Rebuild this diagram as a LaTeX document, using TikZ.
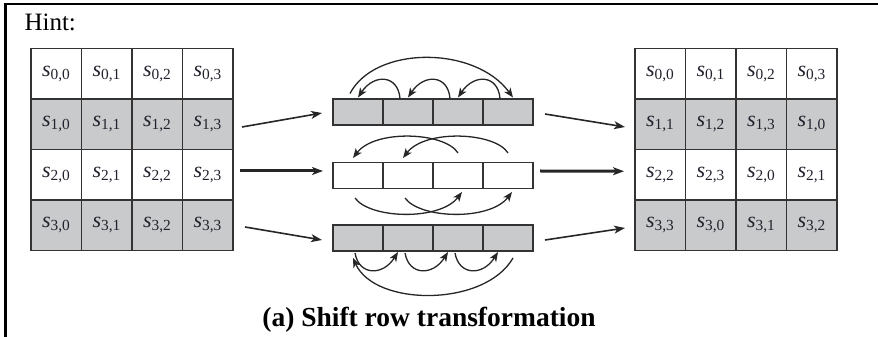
\documentclass[tikz,border=0pt]{standalone}
\usepackage{fontspec}
\setmainfont{Liberation Serif}
\usetikzlibrary{arrows.meta}
\definecolor{cellgray}{HTML}{C9CACB}
\definecolor{gridline}{HTML}{333333}
\definecolor{celltext}{HTML}{22222E}
\newcommand{\sij}[2]{{\itshape s}\textsubscript{#1,#2}}

\begin{document}
\begin{tikzpicture}[
  x=1pt,y=1pt,
  >={Stealth[length=11pt,width=8pt,inset=3pt]},
  cell/.style={draw=gridline,line width=1.3pt,minimum width=50.5pt,
    minimum height=50.5pt,inner sep=0pt,outer sep=0pt,text=celltext,
    font=\fontsize{22}{24}\selectfont},
  gcell/.style={cell,fill=cellgray},
  slot/.style={draw=gridline,line width=1.3pt,minimum width=50pt,
    minimum height=26pt,inner sep=0pt,outer sep=0pt},
  gslot/.style={slot,fill=cellgray},
  feed/.style={->,line width=1.6pt,black!85},
  hop/.style={-{Stealth[length=9.5pt,width=7.5pt,inset=2.5pt]},line width=1.3pt,black!85}
]
  \useasboundingbox (0,0) rectangle (878,337);
  \draw[line width=2.6pt] (5.5,0) -- (5.5,333) -- (878,333);
  \node[anchor=base west,font=\fontsize{25}{30}\selectfont] (hint) at (21,306) {Hint:};

  % state before
  \node[cell] (L-0-0) at (56.25,263.25) {\sij00};
  \node[cell] (L-0-1) at (106.75,263.25) {\sij01};
  \node[cell] (L-0-2) at (157.25,263.25) {\sij02};
  \node[cell] (L-0-3) at (207.75,263.25) {\sij03};
  \node[gcell] (L-1-0) at (56.25,212.75) {\sij10};
  \node[gcell] (L-1-1) at (106.75,212.75) {\sij11};
  \node[gcell] (L-1-2) at (157.25,212.75) {\sij12};
  \node[gcell] (L-1-3) at (207.75,212.75) {\sij13};
  \node[cell] (L-2-0) at (56.25,162.25) {\sij20};
  \node[cell] (L-2-1) at (106.75,162.25) {\sij21};
  \node[cell] (L-2-2) at (157.25,162.25) {\sij22};
  \node[cell] (L-2-3) at (207.75,162.25) {\sij23};
  \node[gcell] (L-3-0) at (56.25,111.75) {\sij30};
  \node[gcell] (L-3-1) at (106.75,111.75) {\sij31};
  \node[gcell] (L-3-2) at (157.25,111.75) {\sij32};
  \node[gcell] (L-3-3) at (207.75,111.75) {\sij33};

  % rows being shifted
  \node[gslot] (B1-0) at (358,225) {};
  \node[gslot] (B1-1) at (408,225) {};
  \node[gslot] (B1-2) at (458,225) {};
  \node[gslot] (B1-3) at (508,225) {};
  \node[slot] (B2-0) at (358,161.5) {};
  \node[slot] (B2-1) at (408,161.5) {};
  \node[slot] (B2-2) at (458,161.5) {};
  \node[slot] (B2-3) at (508,161.5) {};
  \node[gslot] (B3-0) at (358,99) {};
  \node[gslot] (B3-1) at (408,99) {};
  \node[gslot] (B3-2) at (458,99) {};
  \node[gslot] (B3-3) at (508,99) {};

  % state after
  \node[cell] (R-0-0) at (660.25,263.25) {\sij00};
  \node[cell] (R-0-1) at (710.75,263.25) {\sij01};
  \node[cell] (R-0-2) at (761.25,263.25) {\sij02};
  \node[cell] (R-0-3) at (811.75,263.25) {\sij03};
  \node[gcell] (R-1-0) at (660.25,212.75) {\sij11};
  \node[gcell] (R-1-1) at (710.75,212.75) {\sij12};
  \node[gcell] (R-1-2) at (761.25,212.75) {\sij13};
  \node[gcell] (R-1-3) at (811.75,212.75) {\sij10};
  \node[cell] (R-2-0) at (660.25,162.25) {\sij22};
  \node[cell] (R-2-1) at (710.75,162.25) {\sij23};
  \node[cell] (R-2-2) at (761.25,162.25) {\sij20};
  \node[cell] (R-2-3) at (811.75,162.25) {\sij21};
  \node[gcell] (R-3-0) at (660.25,111.75) {\sij33};
  \node[gcell] (R-3-1) at (710.75,111.75) {\sij30};
  \node[gcell] (R-3-2) at (761.25,111.75) {\sij31};
  \node[gcell] (R-3-3) at (811.75,111.75) {\sij32};

  % in and out
  \draw[feed] ([shift={(9,-2.75)}]L-1-3.east) -- ([shift={(-11,-1)}]B1-0.west);
  \draw[feed,line width=3pt] ([shift={(7,3.75)}]L-2-3.east) -- ([shift={(-10,4.5)}]B2-0.west);
  \draw[feed] ([shift={(12,-1.75)}]L-3-3.east) -- ([shift={(-11,-2)}]B3-0.west);
  \draw[feed] ([shift={(12,-2)}]B1-3.east) -- ([shift={(-10,-2.75)}]R-1-0.west);
  \draw[feed,line width=3pt] ([shift={(7,4.5)}]B2-3.east) -- ([shift={(-11,3.5)}]R-2-0.west);
  \draw[feed] ([shift={(12,-2)}]B3-3.east) -- ([shift={(-10,-2.75)}]R-3-0.west);

  % one to the left
  \draw[hop] ([shift={(-8,0.5)}]B1-1.north) .. controls +(-2,24) and +(16,24) .. ([yshift=1.5pt]B1-0.north);
  \draw[hop] ([shift={(-8,0.5)}]B1-2.north) .. controls +(-2,24) and +(16,24) .. ([yshift=1.5pt]B1-1.north);
  \draw[hop] ([shift={(-8,0.5)}]B1-3.north) .. controls +(-2,24) and +(16,24) .. ([yshift=1.5pt]B1-2.north);
  \draw[hop] ([shift={(-8,5.5)}]B1-0.north) .. controls +(25,48) and +(-38,52) .. ([shift={(5,1.5)}]B1-3.north);

  % two to the left
  \draw[hop] ([yshift=9.5pt]B2-2.north) .. controls +(-13,21) and +(22,29) .. ([shift={(-5,4.5)}]B2-0.north);
  \draw[hop] ([yshift=9.5pt]B2-3.north) .. controls +(-13,21) and +(22,29) .. ([shift={(-5,4.5)}]B2-1.north);
  \draw[hop] ([shift={(-3,-9.5)}]B2-0.south) .. controls +(15,-21) and +(-22,-29) .. ([shift={(4,-3.5)}]B2-2.south);
  \draw[hop] ([shift={(-3,-9.5)}]B2-1.south) .. controls +(15,-21) and +(-22,-29) .. ([shift={(4,-3.5)}]B2-3.south);

  % three to the left
  \draw[hop] ([shift={(-3,-2)}]B3-0.south) .. controls +(4,-23) and +(-15,-24) .. ([shift={(-10,-1)}]B3-1.south);
  \draw[hop] ([shift={(-3,-2)}]B3-1.south) .. controls +(4,-23) and +(-15,-24) .. ([shift={(-10,-1)}]B3-2.south);
  \draw[hop] ([shift={(-3,-2)}]B3-2.south) .. controls +(4,-23) and +(-15,-24) .. ([shift={(-10,-1)}]B3-3.south);
  \draw[hop] ([shift={(5,-7)}]B3-3.south) .. controls +(-28,-49) and +(22,-49) .. ([shift={(-5,-7)}]B3-0.south);

  \node[anchor=base,font=\bfseries\fontsize{27.5}{32}\selectfont] (caption) at (429,10) {(a) Shift row transformation};
\end{tikzpicture}
\end{document}
